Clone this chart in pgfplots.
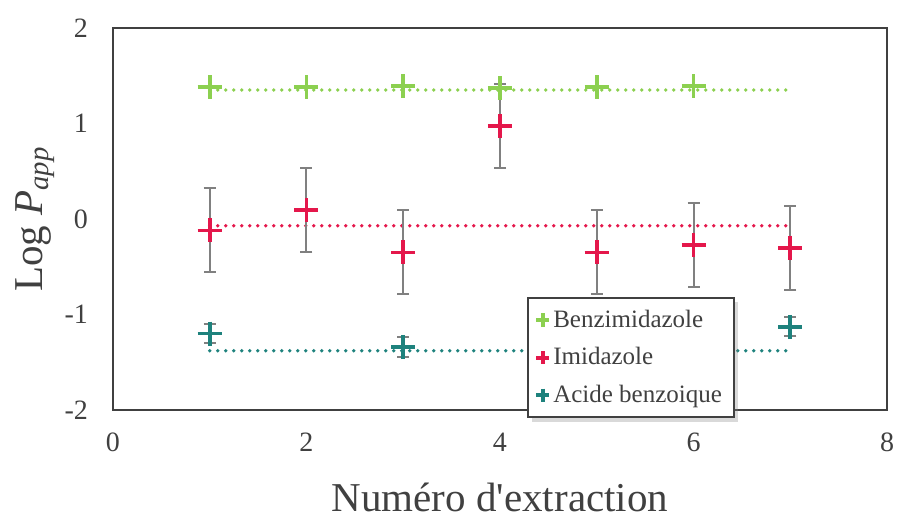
\documentclass[border=0pt]{standalone}
\usepackage{pgfplots}
\pgfplotsset{compat=1.18}
\usepackage{fontspec}
\setmainfont{Liberation Serif}
\usetikzlibrary{shadows,calc}

\definecolor{benzgreen}{RGB}{140,208,80}
\definecolor{imidred}{RGB}{228,23,75}
\definecolor{acidteal}{RGB}{30,130,125}
\definecolor{errgray}{RGB}{128,128,128}
\definecolor{framegray}{RGB}{64,64,64}

\begin{document}
\begin{tikzpicture}
\begin{axis}[
    width=387pt, height=191pt, scale only axis,
    xmin=0, xmax=8, ymin=-2, ymax=2,
    xtick={0,2,4,6,8}, ytick={-2,-1,0,1,2},
    major tick length=0pt,
    axis line style={draw=framegray, line width=1pt},
    /pgf/number format/assume math mode=true,
    ticklabel style={font=\fontsize{14}{15}\selectfont, text=framegray},
    xticklabel style={yshift=-8pt},
    yticklabel style={xshift=-9pt},
    xlabel={Numéro d\textquotesingle extraction},
    ylabel={Log \textit{P}\textsubscript{\textit{app}}},
    label style={font=\fontsize{20.5}{22}\selectfont, text=framegray},
    xlabel style={at={(axis description cs:0.5,-0.228)}, anchor=center},
    ylabel style={at={(axis description cs:-0.101,0.5)}, anchor=center},
    legend style={at={(rel axis cs:0.535,0.296)}, anchor=north west,
        draw=framegray, line width=1pt, fill=white,
        drop shadow={shadow xshift=2.2pt, shadow yshift=-2.2pt, opacity=0.3},
        font=\fontsize{12.5}{14}\selectfont, text=framegray,
        row sep=4.6pt, inner xsep=4pt, inner ysep=4pt},
    legend cell align=left,
    legend image code/.code={\draw[#1, mark size=3.3pt, line width=1.4pt] plot coordinates {(0.18cm,0cm)};},
    error bars/error bar style={color=errgray, line width=1pt},
    error bars/error mark options={rotate=90, mark size=3pt, line width=1pt, errgray},
]
% dotted trend lines
\addplot[forget plot, benzgreen, line width=1.9pt, line cap=round, dash pattern=on 0pt off 4pt]
    coordinates {(1,1.35) (7,1.35)};
\addplot[forget plot, imidred, line width=1.9pt, line cap=round, dash pattern=on 0pt off 4pt]
    coordinates {(1,-0.07) (7,-0.07)};
\addplot[forget plot, acidteal, line width=1.9pt, line cap=round, dash pattern=on 0pt off 4pt]
    coordinates {(1,-1.38) (7,-1.38)};

\addplot[only marks, mark=+, mark size=6pt, benzgreen, mark options={line width=1.9pt}]
    coordinates {(1,1.38) (2,1.38) (3,1.39) (4,1.37) (5,1.38) (6,1.39)};
\addlegendentry{Benzimidazole}

\addplot[only marks, mark=+, mark size=6pt, imidred, mark options={line width=1.9pt},
    error bars/.cd, y dir=both, y explicit]
    coordinates {
    (1,-0.12) +- (0,0.44)
    (2,0.09) +- (0,0.44)
    (3,-0.35) +- (0,0.44)
    (4,0.97) +- (0,0.44)
    (5,-0.35) +- (0,0.44)
    (6,-0.27) +- (0,0.44)
    (7,-0.30) +- (0,0.44)
    };
\addlegendentry{Imidazole}

\addplot[only marks, mark=+, mark size=6pt, acidteal, mark options={line width=1.9pt},
    error bars/.cd, y dir=both, y explicit]
    coordinates {
    (1,-1.20) +- (0,0.10)
    (3,-1.34) +- (0,0.10)
    (7,-1.13) +- (0,0.10)
    };
\addlegendentry{Acide benzoique}
\end{axis}
\pgfresetboundingbox
\path ($(current axis.south west)+(-56.5pt,-54pt)$) rectangle ($(current axis.north east)+(7pt,14pt)$);
\end{tikzpicture}
\end{document}
